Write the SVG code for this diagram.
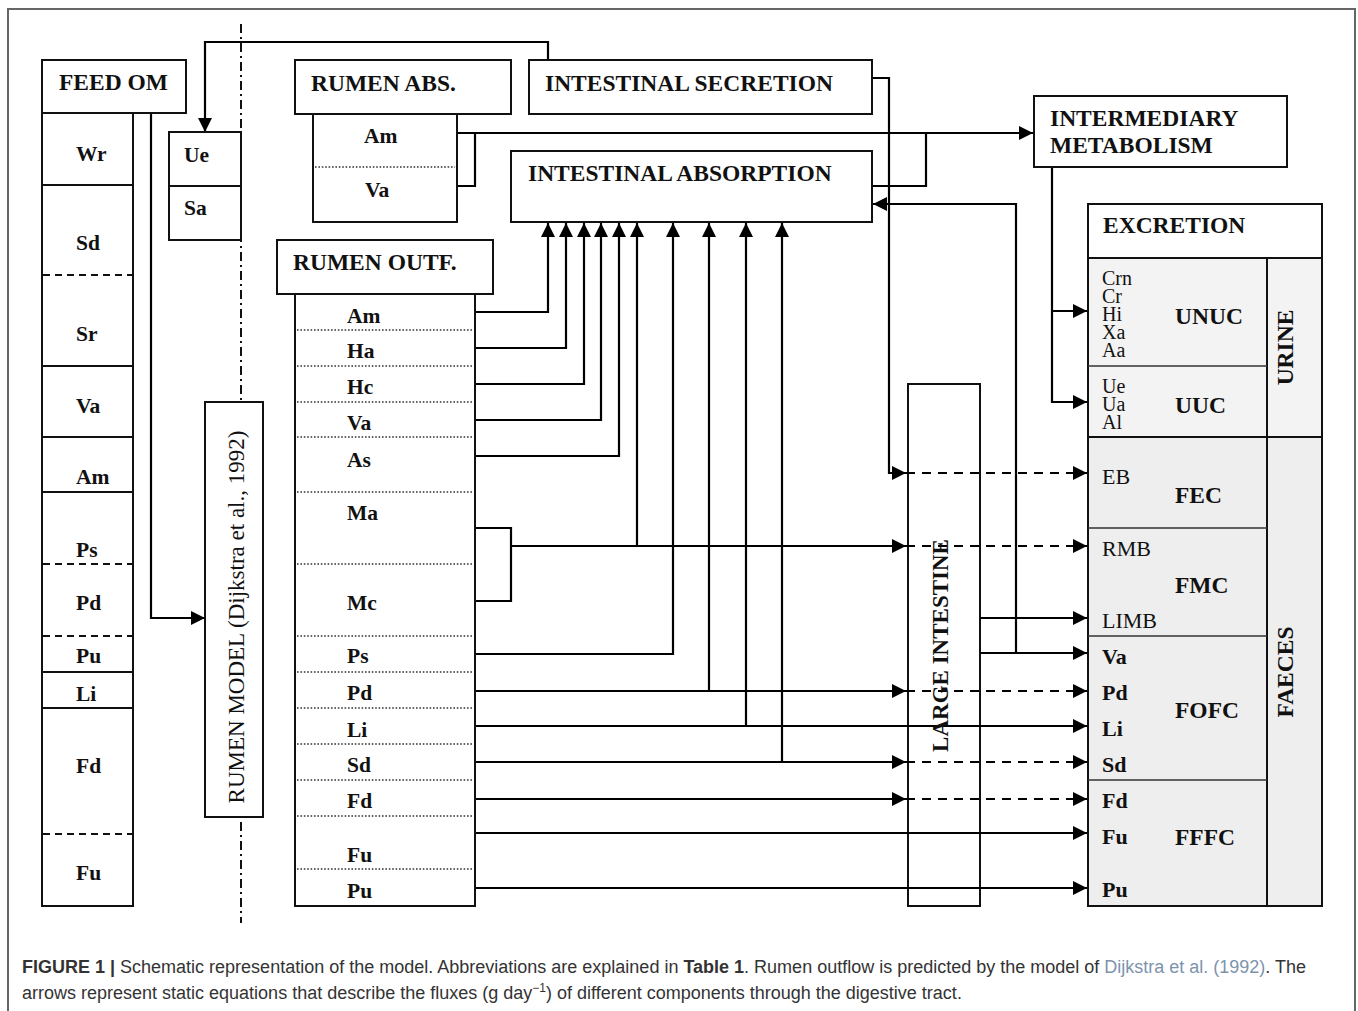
<svg xmlns="http://www.w3.org/2000/svg" width="1358" height="1011" viewBox="0 0 1358 1011">
<defs>
<style>
.box{fill:#fff;stroke:#111;stroke-width:2}
.ln{fill:none;stroke:#111;stroke-width:2}
.thin{fill:none;stroke:#333;stroke-width:1.5}
.dot{fill:none;stroke:#333;stroke-width:1.5;stroke-dasharray:1.6 1.8}
.dsh{fill:none;stroke:#111;stroke-width:1.8;stroke-dasharray:7 5}
.c{fill:none;stroke:#000;stroke-width:2.2}
.ca{fill:none;stroke:#000;stroke-width:2.2;marker-end:url(#ah)}
.cda{fill:none;stroke:#000;stroke-width:2.2;stroke-dasharray:9 7;marker-end:url(#ah)}
.t{font-family:"Liberation Serif","Times New Roman",serif;fill:#111}
.b{font-weight:bold}
.h{font-size:23.5px;font-weight:bold}
.l{font-size:21.5px;font-weight:bold}
.e{font-size:22px}
.s{font-size:20px}
.cap{font-family:"Liberation Sans",Arial,sans-serif;font-size:18px;fill:#333}
</style>
<marker id="ah" markerUnits="userSpaceOnUse" markerWidth="14" markerHeight="14" refX="14" refY="7" orient="auto">
<path d="M0,0 L14,7 L0,14 z" fill="#000"/>
</marker>
</defs>
<rect x="0" y="0" width="1358" height="1011" fill="#fff"/>
<rect x="8" y="9" width="1347" height="1040" fill="none" stroke="#666" stroke-width="2"/>

<line x1="241" y1="24" x2="241" y2="923" stroke="#111" stroke-width="2" stroke-dasharray="9 4 2 4"/>

<g id="large-intestine">
<rect class="box" x="908" y="384" width="72" height="522"/>
</g>

<g id="connectors">
<path class="ca" d="M548,60 V42 H205 V132"/>
<path class="ca" d="M151,113 V618 H205"/>
<path class="ca" d="M457,133 H1033"/>
<path class="c" d="M457,186 H475 V133"/>
<path class="c" d="M872,186 H926 V133"/>
<path class="ca" d="M872,78 H889 V473 H906"/>
<path class="cda" d="M906,473 H1087"/>
<path class="ca" d="M1052,167 V402 H1087"/>
<path class="ca" d="M1052,311 H1087"/>
<path class="ca" d="M980,618 H1087"/>
<path class="ca" d="M980,653 H1087"/>
<path class="ca" d="M1016,653 V204 H873"/>
<path class="ca" d="M475,312 H548 V223"/>
<path class="ca" d="M475,348 H566 V223"/>
<path class="ca" d="M475,384 H584 V223"/>
<path class="ca" d="M475,420 H601 V223"/>
<path class="ca" d="M475,456 H619 V223"/>
<path class="c" d="M475,528 H511 V601 H475"/>
<path class="ca" d="M511,546 H906"/>
<path class="cda" d="M906,546 H1087"/>
<path class="ca" d="M637,546 V223"/>
<path class="ca" d="M475,654 H673 V223"/>
<path class="ca" d="M475,691 H906"/>
<path class="cda" d="M906,691 H1087"/>
<path class="ca" d="M709,691 V223"/>
<path class="ca" d="M475,726 H1087"/>
<path class="ca" d="M746,726 V223"/>
<path class="ca" d="M475,762 H906"/>
<path class="cda" d="M906,762 H1087"/>
<path class="ca" d="M782,762 V223"/>
<path class="ca" d="M475,799 H906"/>
<path class="cda" d="M906,799 H1087"/>
<path class="ca" d="M475,833 H1087"/>
<path class="ca" d="M475,888 H1087"/>
</g>

<g id="large-intestine-label">
<text class="t h" transform="translate(948,645.5) rotate(-90)" text-anchor="middle" style="font-size:23px">LARGE INTESTINE</text>
</g>

<g id="feed-om">
<rect class="box" x="42" y="60" width="144" height="53"/>
<text class="t h" x="59" y="90">FEED OM</text>
<rect class="box" x="42" y="113" width="91" height="793"/>
<path class="ln" d="M42,185 H133 M42,366 H133 M42,437 H133 M42,492 H133 M42,672 H133 M42,708 H133"/>
<path class="dsh" d="M43,275 H132 M43,564 H132 M43,636 H132 M43,834 H132"/>
<text class="t l" x="76" y="161">Wr</text>
<text class="t l" x="76" y="250">Sd</text>
<text class="t l" x="76" y="341">Sr</text>
<text class="t l" x="76" y="413">Va</text>
<text class="t l" x="76" y="484">Am</text>
<text class="t l" x="76" y="557">Ps</text>
<text class="t l" x="76" y="610">Pd</text>
<text class="t l" x="76" y="663">Pu</text>
<text class="t l" x="76" y="701">Li</text>
<text class="t l" x="76" y="773">Fd</text>
<text class="t l" x="76" y="880">Fu</text>
</g>

<g id="ue-sa">
<rect class="box" x="169" y="132" width="72" height="108"/>
<path class="ln" d="M169,186 H241"/>
<text class="t l" x="184" y="162">Ue</text>
<text class="t l" x="184" y="215">Sa</text>
</g>

<g id="rumen-model">
<rect class="box" x="205" y="402" width="58" height="415"/>
<text class="t" transform="translate(244,617) rotate(-90)" text-anchor="middle" style="font-size:23px">RUMEN MODEL (Dijkstra et al., 1992)</text>
</g>

<g id="rumen-abs">
<rect class="box" x="295" y="60" width="216" height="54"/>
<text class="t h" x="311" y="91">RUMEN ABS.</text>
<rect class="box" x="313" y="114" width="144" height="108"/>
<path class="dot" d="M315,167 H455"/>
<text class="t l" x="364" y="143">Am</text>
<text class="t l" x="365" y="197">Va</text>
</g>

<g id="intestinal-secretion">
<rect class="box" x="529" y="60" width="343" height="54"/>
<text class="t h" x="545" y="91">INTESTINAL SECRETION</text>
</g>

<g id="intestinal-absorption">
<rect class="box" x="511" y="151" width="361" height="71"/>
<text class="t h" x="528" y="181">INTESTINAL ABSORPTION</text>
</g>

<g id="rumen-outf">
<rect class="box" x="277" y="240" width="216" height="54"/>
<text class="t h" x="293" y="270">RUMEN OUTF.</text>
<rect class="box" x="295" y="294" width="180" height="612"/>
<path class="dot" d="M297,330 H473 M297,366 H473 M297,402 H473 M297,437 H473 M297,492 H473 M297,564 H473 M297,636 H473 M297,672 H473 M297,708 H473 M297,744 H473 M297,780 H473 M297,816 H473 M297,869 H473"/>
<text class="t l" x="347" y="323">Am</text>
<text class="t l" x="347" y="358">Ha</text>
<text class="t l" x="347" y="394">Hc</text>
<text class="t l" x="347" y="430">Va</text>
<text class="t l" x="347" y="467">As</text>
<text class="t l" x="347" y="520">Ma</text>
<text class="t l" x="347" y="610">Mc</text>
<text class="t l" x="347" y="663">Ps</text>
<text class="t l" x="347" y="700">Pd</text>
<text class="t l" x="347" y="737">Li</text>
<text class="t l" x="347" y="772">Sd</text>
<text class="t l" x="347" y="808">Fd</text>
<text class="t l" x="347" y="862">Fu</text>
<text class="t l" x="347" y="898">Pu</text>
</g>

<g id="intermediary-metabolism">
<rect class="box" x="1034" y="96" width="253" height="71"/>
<text class="t h" x="1050" y="126">INTERMEDIARY</text>
<text class="t h" x="1050" y="153">METABOLISM</text>
</g>

<g id="excretion">
<rect x="1088" y="258" width="234" height="179" fill="#f3f3f3"/>
<rect x="1088" y="437" width="234" height="469" fill="#eeeeee"/>
<rect x="1088" y="204" width="234" height="702" fill="none" stroke="#111" stroke-width="2"/>
<path class="ln" d="M1088,258 H1322 M1088,437 H1322 M1267,258 V906"/>
<path class="thin" d="M1088,366 H1267 M1088,528 H1267 M1088,636 H1267 M1088,780 H1267"/>
<text class="t h" x="1103" y="233">EXCRETION</text>
<text class="t s" x="1102" y="285">Crn</text>
<text class="t s" x="1102" y="303">Cr</text>
<text class="t s" x="1102" y="321">Hi</text>
<text class="t s" x="1102" y="339">Xa</text>
<text class="t s" x="1102" y="357">Aa</text>
<text class="t h" x="1175" y="324">UNUC</text>
<text class="t s" x="1102" y="393">Ue</text>
<text class="t s" x="1102" y="411">Ua</text>
<text class="t s" x="1102" y="429">Al</text>
<text class="t h" x="1175" y="413">UUC</text>
<text class="t h" transform="translate(1293,347.5) rotate(-90)" text-anchor="middle">URINE</text>
<text class="t e" x="1102" y="484">EB</text>
<text class="t h" x="1175" y="503">FEC</text>
<text class="t e" x="1102" y="556">RMB</text>
<text class="t h" x="1175" y="593">FMC</text>
<text class="t e" x="1102" y="628">LIMB</text>
<text class="t e b" x="1102" y="664">Va</text>
<text class="t e b" x="1102" y="700">Pd</text>
<text class="t h" x="1175" y="718">FOFC</text>
<text class="t e b" x="1102" y="736">Li</text>
<text class="t e b" x="1102" y="772">Sd</text>
<text class="t e b" x="1102" y="808">Fd</text>
<text class="t e b" x="1102" y="844">Fu</text>
<text class="t h" x="1175" y="845">FFFC</text>
<text class="t e b" x="1102" y="897">Pu</text>
<text class="t h" transform="translate(1293,672) rotate(-90)" text-anchor="middle">FAECES</text>
</g>

<g id="caption">
<text class="cap" x="22" y="973"><tspan font-weight="bold">FIGURE 1 |</tspan> Schematic representation of the model. Abbreviations are explained in <tspan font-weight="bold">Table 1</tspan>. Rumen outflow is predicted by the model of <tspan fill="#7d93ad">Dijkstra et al. (1992)</tspan>. The</text>
<text class="cap" x="22" y="999">arrows represent static equations that describe the fluxes (g day<tspan dy="-7" font-size="12px">−1</tspan><tspan dy="7">) of different components through the digestive tract.</tspan></text>
</g>
</svg>
